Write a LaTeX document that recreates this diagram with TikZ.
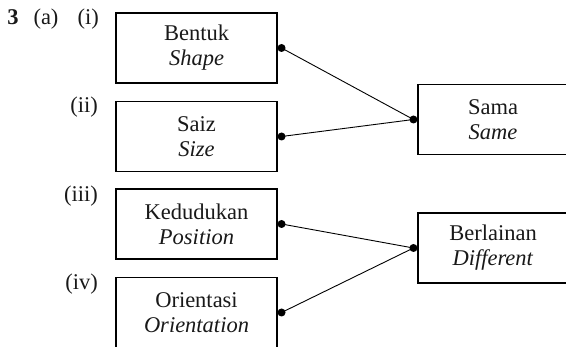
\documentclass[tikz,border=0pt]{standalone}
\usepackage{fontspec}
\setmainfont{Liberation Serif}
\begin{document}
\begin{tikzpicture}[x=1pt,y=-1pt,
  every node/.style={font=\fontsize{22.5}{25}\selectfont, text=black!90},
  box/.style={draw, line width=1.1pt, align=center, minimum height=70pt, inner sep=0pt},
  lbox/.style={box, minimum width=161pt},
  rbox/.style={box, minimum width=150pt},
  lab/.style={anchor=base east, inner sep=0pt},
  conn/.style={line width=0.9pt},
  dot/.style={circle, fill=black, inner sep=0pt, minimum size=8pt}]
\useasboundingbox (0,0) rectangle (566,347);
\clip (0,0) rectangle (566,347);
% labels
\node[anchor=base, inner sep=0pt, font=\fontsize{22.5}{25}\selectfont\bfseries] (n3) at (13,25) {3};
\node[anchor=base, inner sep=0pt] (na) at (46,25) {(a)};
\node[lab] (l1) at (99,25) {(i)};
\node[lab] (l2) at (98,113) {(ii)};
\node[lab] (l3) at (98,202) {(iii)};
\node[lab] (l4) at (98,290) {(iv)};
% left boxes
\node[lbox] (b1) at (196.5,48) {Bentuk\\\textit{Shape}};
\node[lbox] (b2) at (196.5,136.5) {Saiz\\\textit{Size}};
\node[lbox] (b3) at (196.5,224) {Kedudukan\\\textit{Position}};
\node[lbox] (b4) at (196.5,312.5) {Orientasi\\\textit{Orientation}};
% right boxes
\node[rbox] (r1) at (493,119.5) {Sama\\\textit{Same}};
\node[rbox] (r2) at (493,248) {Berlainan\\\textit{Different}};
% dots
\node[dot] (d1) at ([xshift=4pt]b1.east) {};
\node[dot] (d2) at ([xshift=4pt]b2.east) {};
\node[dot] (d3) at ([xshift=4pt]b3.east) {};
\node[dot] (d4) at ([xshift=4pt]b4.east) {};
\node[dot] (e1) at ([xshift=-4pt]r1.west) {};
\node[dot] (e2) at ([xshift=-4pt]r2.west) {};
% connectors
\draw[conn] (d1.center) -- (e1.center);
\draw[conn] (d2.center) -- (e1.center);
\draw[conn] (d3.center) -- (e2.center);
\draw[conn] (d4.center) -- (e2.center);
\end{tikzpicture}
\end{document}
